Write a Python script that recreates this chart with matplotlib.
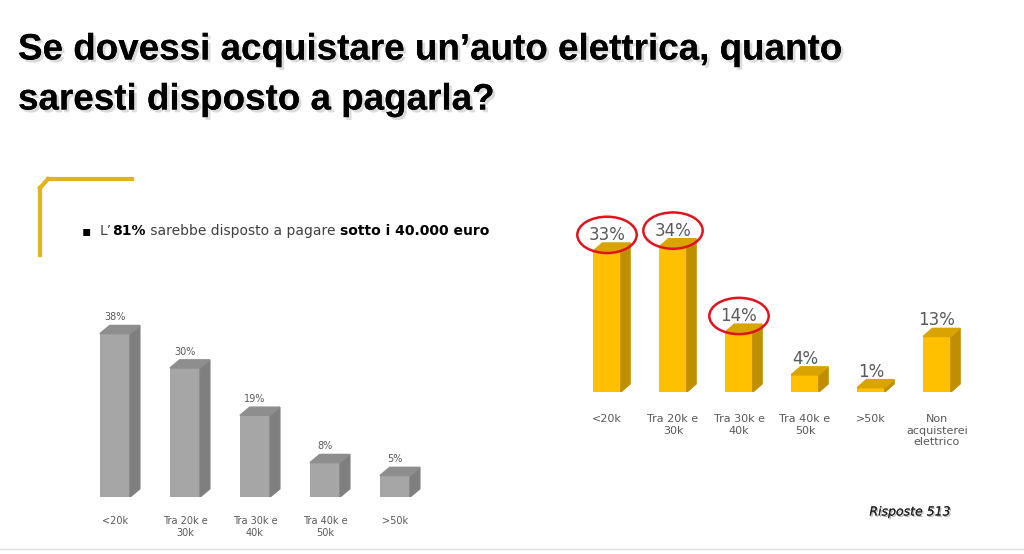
import matplotlib.pyplot as plt
from matplotlib.patches import Polygon, Ellipse
import matplotlib.patheffects as pe

W, H = 1024, 554

# dati
left_cats = ["<20k", "Tra 20k e\n30k", "Tra 30k e\n40k", "Tra 40k e\n50k", ">50k"]
left_vals = [38, 30, 19, 8, 5]
right_cats = ["<20k", "Tra 20k e\n30k", "Tra 30k e\n40k", "Tra 40k e\n50k", ">50k",
              "Non\nacquisterei\nelettrico"]
right_vals = [33, 34, 14, 4, 1, 13]
circled = [0, 1, 2]

fig = plt.figure(figsize=(W / 100, H / 100), dpi=100)
fig.patch.set_facecolor("white")


def px_axes(left, top, width, height):
    return fig.add_axes([left / W, 1 - (top + height) / H, width / W, height / H])


def bars3d(ax, vals, width, dx, dy, front, side, top):
    ax.bar(range(len(vals)), vals, width=width, color=front, zorder=3)
    for i, v in enumerate(vals):
        x0, x1 = i - width / 2, i + width / 2
        ax.add_patch(Polygon([(x1, 0), (x1 + dx, dy), (x1 + dx, v + dy), (x1, v)],
                             closed=True, color=side, zorder=3))
        ax.add_patch(Polygon([(x0, v), (x0 + dx, v + dy), (x1 + dx, v + dy), (x1, v)],
                             closed=True, color=top, zorder=3))


# titolo
shadow = [pe.withSimplePatchShadow(offset=(2, -2), shadow_rgbFace="#999999", alpha=0.35), pe.Normal()]
fig.text(18 / W, 1 - 50 / H, "Se dovessi acquistare un\u2019auto elettrica, quanto",
         fontsize=26.5, fontweight="bold", family="Liberation Sans", va="center", path_effects=shadow)
fig.text(18 / W, 1 - 100 / H, "saresti disposto a pagarla?",
         fontsize=26.5, fontweight="bold", family="Liberation Sans", va="center", path_effects=shadow)

# cornice gialla
fig.add_artist(plt.Line2D([48 / W, 132 / W], [1 - 179 / H, 1 - 179 / H], color="#E3B21C", lw=3))
fig.add_artist(plt.Line2D([40 / W, 40 / W], [1 - 188 / H, 1 - 255 / H], color="#E3B21C", lw=3))
fig.add_artist(plt.Line2D([40 / W, 48 / W], [1 - 188 / H, 1 - 179 / H], color="#E3B21C", lw=3))

# testo bullet con parti in grassetto
fig.text(82 / W, 1 - 231 / H, "\u25aa", fontsize=10, va="center")
parts = [("L\u2019", "normal"), ("81%", "bold"), (" sarebbe disposto a pagare ", "normal"),
         ("sotto i 40.000 euro", "bold")]
fig.canvas.draw()
r = fig.canvas.get_renderer()
x = 100
for s, w in parts:
    t = fig.text(x / W, 1 - 231 / H, s, fontsize=10, fontweight=w, va="center",
                 color="#404040" if w == "normal" else "black")
    x += t.get_window_extent(r).width

# grafico sinistro (grigio)
ax1 = px_axes(80, 497 - 45 * 4.3, 350, 45 * 4.3)
ax1.set_xlim(-0.5, 4.5)
ax1.set_ylim(0, 45)
bars3d(ax1, left_vals, 0.43, 0.14, 1.9, "#A6A6A6", "#7F7F7F", "#8E8E8E")
for i, v in enumerate(left_vals):
    ax1.text(i, v + 2.6, f"{v}%", ha="center", va="bottom", fontsize=7, color="#595959")
ax1.set_xticks(range(len(left_cats)))
ax1.set_xticklabels(left_cats, fontsize=7, color="#595959")
ax1.tick_params(length=0, pad=14)
ax1.set_yticks([])
for s in ax1.spines.values():
    s.set_visible(False)

# grafico destro (giallo)
ax2 = px_axes(574, 392 - 40 * 4.27, 396, 40 * 4.27)
ax2.set_xlim(-0.5, 5.5)
ax2.set_ylim(0, 40)
bars3d(ax2, right_vals, 0.42, 0.14, 1.9, "#FFC000", "#C08F00", "#D9A300")
for i, v in enumerate(right_vals):
    ax2.text(i, v + 3.8, f"{v}%", ha="center", va="center", fontsize=12, color="#595959")
    if i in circled:
        ax2.add_patch(Ellipse((i, v + 3.8), 0.9, 8.5, fill=False, ec="#E0141E", lw=1.8,
                              clip_on=False, zorder=4))
ax2.set_xticks(range(len(right_cats)))
ax2.set_xticklabels(right_cats, fontsize=8, color="#595959", va="top")
ax2.tick_params(length=0, pad=16)
ax2.set_yticks([])
for s in ax2.spines.values():
    s.set_visible(False)

fig.text(910 / W, 1 - 512 / H, "Risposte 513", fontsize=9, style="italic", ha="center",
         va="center", color="#222222",
         path_effects=[pe.withSimplePatchShadow(offset=(1, -1), alpha=0.3), pe.Normal()])
fig.add_artist(plt.Line2D([0, 1], [1 - 549 / H, 1 - 549 / H], color="#E0E0E0", lw=1))

fig.savefig("out.png", dpi=100)
